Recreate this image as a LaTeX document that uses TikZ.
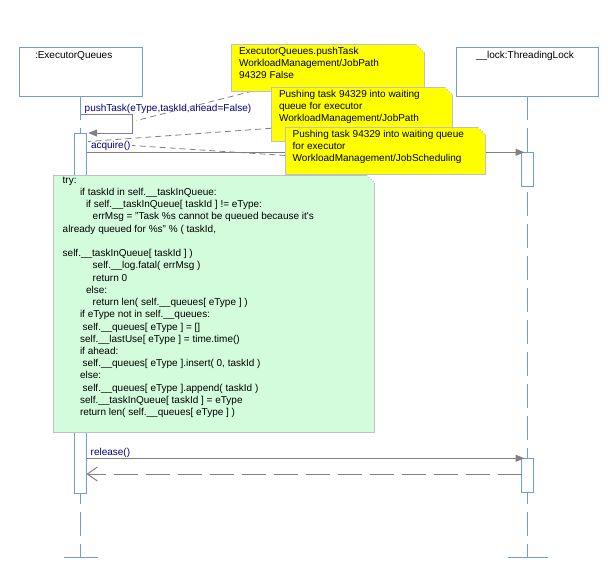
\documentclass[tikz,border=0pt]{standalone}
\usepackage{fontspec}
\setmainfont{Liberation Sans}
\usetikzlibrary{arrows.meta}

\definecolor{lifeblue}{RGB}{110,158,216}
\definecolor{msggray}{RGB}{128,128,128}
\definecolor{noteedge}{RGB}{192,192,192}
\definecolor{noteyellow}{RGB}{255,255,0}
\definecolor{notegreen}{RGB}{210,252,220}
\definecolor{labelnavy}{RGB}{0,0,128}

% dog-eared note drawn over an invisible node #1, filled with #2
\newcommand\dognote[2]{%
  \fill[#2] (#1.north west) -- ([xshift=-8pt]#1.north east) -- ([yshift=-8pt]#1.north east)
    -- (#1.south east) -- (#1.south west) -- cycle;
  \draw[noteline] ([xshift=-8pt]#1.north east) -- (#1.north west) -- (#1.south west)
    -- (#1.south east) -- ([yshift=-8pt]#1.north east);
  \draw[noteline, dotted] ([xshift=-8pt]#1.north east) -- ([yshift=-8pt]#1.north east);
}

\begin{document}
\begin{tikzpicture}[x=1pt,y=-1pt,
  every node/.style={inner sep=0pt, outer sep=0pt, font=\fontsize{10}{12}\selectfont},
  headbox/.style={draw=lifeblue, line width=1pt, fill=white, anchor=north west},
  actbox/.style={draw=lifeblue, line width=1pt, fill=white, minimum width=12pt, anchor=north},
  lifeline/.style={draw=lifeblue, line width=1pt, dash pattern=on 24pt off 8pt},
  endtick/.style={draw=lifeblue, line width=1pt},
  txt/.style={anchor=base west, text=black},
  msglabel/.style={anchor=base west, text=labelnavy},
  msg/.style={draw=msggray, line width=1pt, -{Triangle[length=9pt,width=7pt]}, shorten >=-3pt},
  reply/.style={draw=msggray, line width=1pt, dash pattern=on 24pt off 8pt,
    -{Straight Barb[length=10pt,width=14pt]}},
  notelink/.style={draw=msggray, line width=0.8pt, dash pattern=on 6pt off 4pt},
  notearea/.style={anchor=north west, draw=none},
  noteline/.style={draw=noteedge, line width=1pt},
]
\fill[white] (0,0) rectangle (608,566);
\useasboundingbox (0,0) rectangle (608,566);

% lifeline heads
\node[headbox, minimum width=123pt, minimum height=48.7pt] (eq) at (19,47.3) {};
\node[txt] (eqname) at (35,58.3) {:ExecutorQueues};
\node[headbox, minimum width=141.6pt, minimum height=48.7pt] (lk) at (456.7,47.3) {};
\node[txt] (lkname) at (476,58.3) {\_\_lock:ThreadingLock};

% lifelines with end ticks
\coordinate (bottomline) at (0,557.3);
\draw[lifeline] (eq.south) -- (eq.south |- bottomline) coordinate (eqend);
\draw[endtick] ([xshift=-16.5pt]eqend) -- ([xshift=17pt]eqend);
\draw[lifeline] (lk.south) -- (lk.south |- bottomline) coordinate (lkend);
\draw[endtick] ([xshift=-19.2pt]lkend) -- ([xshift=20.2pt]lkend);

% activations
\node[actbox, minimum height=360pt] (la) at (80.5,133) {};
\node[actbox, minimum height=34.4pt] (ra1) at (527.5,152.3) {};
\node[actbox, minimum height=34pt] (ra2) at (527.5,458.3) {};

% messages
\coordinate (selfstart) at (80.5,114);
\draw[msg, shorten >=1.7pt] (selfstart) -- ++(52.2,0) -- ++(0,19) -- (la.north east);
\node[msglabel] (lblpush) at (84.7,111) {pushTask(eType,taskId,ahead=False)};

\draw[msg] (la.east |- ra1.north west) -- (ra1.north west);
\node[msglabel] (lblacq) at (91,148.3) {acquire()};

\draw[msg] (la.east |- ra2.north west) -- (ra2.north west);
\node[msglabel] (lblrel) at (90.7,455.6) {release()};

\coordinate (retstart) at ([yshift=-15.7pt]ra2.north west);
\draw[reply] (retstart) -- (la.east |- retstart);

% note areas
\node[notearea, minimum width=192.3pt, minimum height=46.7pt] (n1) at (231.7,44.3) {};
\node[notearea, minimum width=181.7pt, minimum height=53.7pt] (n2) at (271,87.3) {};
\node[notearea, minimum width=200.4pt, minimum height=46.7pt] (n3) at (285.3,127.3) {};
\node[notearea, minimum width=321.2pt, minimum height=257.7pt] (cn) at (53.3,175) {};

% note attachments
\coordinate (pushmark) at (136.5,120.5);
\coordinate (actmark) at (88,141.5);
\coordinate (acqmark) at (132,145.5);
\draw[notelink] ([xshift=21.3pt]n1.south west) -- (pushmark);
\draw[notelink] ([yshift=12.7pt]n2.south west) -- (actmark);
\draw[notelink] ([yshift=-4.8pt]n3.west) -- (acqmark);

% notes
\dognote{n1}{noteyellow}
\node[txt] (n1a) at (239,54) {ExecutorQueues.pushTask};
\node[txt] (n1b) at (239,66.3) {WorkloadManagement/JobPath};
\node[txt] (n1c) at (239,78.6) {94329 False};

\dognote{n2}{noteyellow}
\node[txt] (n2a) at (279,97.3) {Pushing task 94329 into waiting};
\node[txt] (n2b) at (279,109.6) {queue for executor};
\node[txt] (n2c) at (279,121.9) {WorkloadManagement/JobPath};

\dognote{n3}{noteyellow}
\node[txt] (n3a) at (292.7,137.3) {Pushing task 94329 into waiting queue};
\node[txt] (n3b) at (292.7,149.6) {for executor};
\node[txt] (n3c) at (292.7,161.9) {WorkloadManagement/JobScheduling};

\dognote{cn}{notegreen}
\foreach \k/\xx/\codeline in {
  0/62.7/{try:},
  1/80/{if taskId in self.\_\_taskInQueue:},
  2/86/{if self.\_\_taskInQueue[ taskId ] != eType:},
  3/92.7/{errMsg = "Task \%s cannot be queued because it\textquotesingle s},
  4/62.7/{already queued for \%s" \% ( taskId,},
  6/62.7/{self.\_\_taskInQueue[ taskId ] )},
  7/92.7/{self.\_\_log.fatal( errMsg )},
  8/92.7/{return 0},
  9/86/{else:},
  10/92.7/{return len( self.\_\_queues[ eType ] )},
  11/80/{if eType not in self.\_\_queues:},
  12/82.7/{self.\_\_queues[ eType ] = []},
  13/80/{self.\_\_lastUse[ eType ] = time.time()},
  14/80/{if ahead:},
  15/82.7/{self.\_\_queues[ eType ].insert( 0, taskId )},
  16/80/{else:},
  17/82.7/{self.\_\_queues[ eType ].append( taskId )},
  18/80/{self.\_\_taskInQueue[ taskId ] = eType},
  19/80/{return len( self.\_\_queues[ eType ] )}}
  \node[txt] (code\k) at (\xx, 183.3+12.23*\k) {\codeline};

\end{tikzpicture}
\end{document}
